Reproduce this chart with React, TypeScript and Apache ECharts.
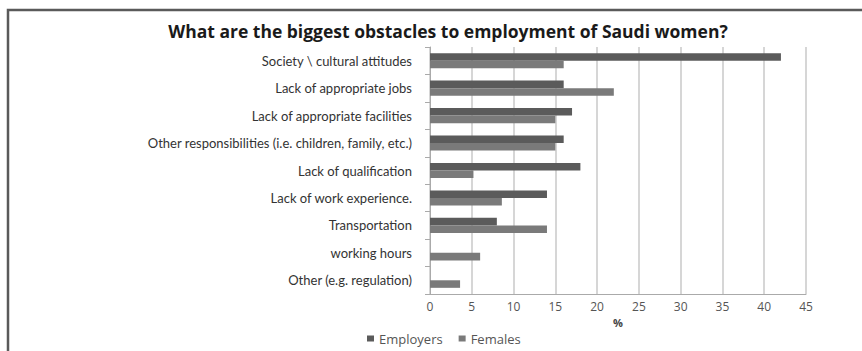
import React, { useEffect, useRef } from "react";
import * as echarts from "echarts";

const categories = [
  "Society \\ cultural attitudes",
  "Lack of appropriate jobs",
  "Lack of appropriate facilities",
  "Other responsibilities (i.e. children, family, etc.)",
  "Lack of qualification",
  "Lack of work experience.",
  "Transportation",
  "working hours",
  "Other (e.g. regulation)",
];
const employers: (number | null)[] = [42, 16, 17, 16, 18, 14, 8, null, null];
const females: (number | null)[] = [16, 22, 15, 15, 5.2, 8.6, 14, 6, 3.6];
const xTicks = { min: 0, max: 45, interval: 5 };

export default function App() {
  const ref = useRef<HTMLDivElement>(null);
  useEffect(() => {
    if (!ref.current) return;
    const chart = echarts.init(ref.current, null, { renderer: "svg" });
    chart.setOption({
      animation: false,
      backgroundColor: "#ffffff",
      title: {
        text: "What are the biggest obstacles to employment of Saudi women?",
        left: 443,
        textAlign: "center",
        top: 17,
        textStyle: { fontFamily: "Open Sans", fontWeight: "bold", fontSize: 17.5, color: "#1a1a1a" },
      },
      graphic: [
        {
          type: "rect",
          shape: { x: 8, y: 10, width: 900, height: 400 },
          style: { fill: "none", stroke: "#5a5a5a", lineWidth: 2.5 },
          silent: true,
        },
      ],
      legend: {
        bottom: 1,
        left: 362,
        itemWidth: 7,
        itemHeight: 6,
        itemGap: 16,
        icon: "rect",
        textStyle: { fontFamily: "Open Sans", fontSize: 13, color: "#555" },
      },
      grid: { left: 430, right: 56, top: 47, bottom: 57 },
      xAxis: {
        type: "value",
        min: xTicks.min,
        max: xTicks.max,
        interval: xTicks.interval,
        name: "%",
        nameLocation: "middle",
        nameGap: 18,
        nameTextStyle: { fontFamily: "Open Sans", fontSize: 11, color: "#444", fontWeight: "bold" },
        axisLine: { show: true, lineStyle: { color: "#aaa" } },
        axisTick: { show: false },
        axisLabel: { fontFamily: "Open Sans", fontSize: 12, color: "#555", margin: 6 },
        splitLine: { show: true, lineStyle: { color: "#c8c8c8", width: 1.5 } },
      },
      yAxis: {
        type: "category",
        data: categories,
        inverse: true,
        axisLine: { show: true, lineStyle: { color: "#aaa" } },
        axisTick: { show: true, length: 5, lineStyle: { color: "#aaa" } },
        axisLabel: { fontFamily: "Lato", fontSize: 13, color: "#333", margin: 18 },
      },
      series: [
        {
          name: "Employers",
          type: "bar",
          data: employers,
          barGap: "0%",
          barCategoryGap: "45%",
          itemStyle: { color: "#5b5b5b" },
        },
        {
          name: "Females",
          type: "bar",
          data: females,
          itemStyle: { color: "#7a7a7a" },
        },
      ],
    });
    return () => chart.dispose();
  }, []);
  return <div ref={ref} style={{ width: 862, height: 351, position: "absolute", left: 0, top: 0 }} />;
}
